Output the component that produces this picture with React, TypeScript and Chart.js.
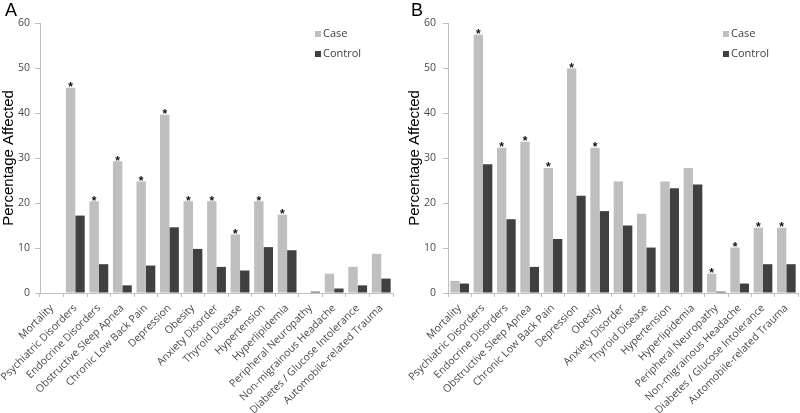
import React, { useEffect, useRef } from "react";
import { Chart, registerables } from "chart.js";

Chart.register(...registerables);

const categories = [
  "Mortality",
  "Psychiatric Disorders",
  "Endocrine Disorders",
  "Obstructive Sleep Apnea",
  "Chronic Low Back Pain",
  "Depression",
  "Obesity",
  "Anxiety Disorder",
  "Thyroid Disease",
  "Hypertension",
  "Hyperlipidemia",
  "Peripheral Neuropathy",
  "Non-migrainous Headache",
  "Diabetes / Glucose Intolerance",
  "Automobile-related Trauma",
];

const seriesNames = ["Case", "Control"];

const caseA = [0, 45.6, 20.4, 29.3, 24.8, 39.6, 20.4, 20.4, 13.0, 20.4, 17.4, 0, 4.3, 5.8, 8.7];
const controlA = [0, 17.2, 6.4, 1.7, 6.1, 14.6, 9.8, 5.8, 5.0, 10.2, 9.5, 0.3, 1.0, 1.7, 3.2];
const starsA = [false, true, true, true, true, true, true, true, true, true, true, false, false, false, false];

const caseB = [2.7, 57.4, 32.3, 33.6, 27.8, 49.9, 32.3, 24.8, 17.6, 24.8, 27.8, 4.3, 10.1, 14.5, 14.5];
const controlB = [2.1, 28.6, 16.4, 5.8, 12.0, 21.6, 18.2, 15.0, 10.1, 23.3, 24.1, 0.3, 2.1, 6.4, 6.4];
const starsB = [false, true, true, true, true, true, true, false, false, false, false, true, true, true, true];

const yMin = 0;
const yMax = 60;
const yStep = 10;

const CASE_COLOR = "#bfbfbf";
const CONTROL_COLOR = "#404040";
const AXIS_COLOR = "#bfbfbf";
const TICK_COLOR = "#4a4a4a";

type PanelProps = {
  letter: string;
  caseVals: number[];
  controlVals: number[];
  stars: boolean[];
  axisWidth: number;
  rightPad: number;
  titlePad: number;
  letterX: number;
  legendOffset: number;
  tickPad: number;
};

function Panel(props: PanelProps) {
  const ref = useRef<HTMLCanvasElement | null>(null);
  useEffect(() => {
    if (!ref.current) return;
    const { letter, stars, letterX, legendOffset } = props;
    const overlay = {
      id: "overlay",
      afterDatasetsDraw(chart: any) {
        const ctx = chart.ctx as CanvasRenderingContext2D;
        const meta = chart.getDatasetMeta(0);
        ctx.save();
        ctx.fillStyle = "#111";
        ctx.font = 'bold 12px "Liberation Sans"';
        ctx.textAlign = "center";
        ctx.textBaseline = "alphabetic";
        stars.forEach((s, i) => {
          if (s) {
            const el = meta.data[i];
            ctx.fillText("*", el.x, el.y + 3.5);
          }
        });
        const { right, top } = chart.chartArea;
        chart.data.datasets.forEach((ds: any, k: number) => {
          const x = right - legendOffset;
          const y = top + 8 + k * 20;
          ctx.fillStyle = ds.backgroundColor;
          ctx.fillRect(x, y, 6, 6);
          ctx.fillStyle = "#404040";
          ctx.font = '11px "Open Sans"';
          ctx.textAlign = "left";
          ctx.textBaseline = "middle";
          ctx.fillText(ds.label, x + 8, y + 3);
        });
        ctx.fillStyle = "#000";
        ctx.font = '18px "Liberation Sans"';
        ctx.textAlign = "left";
        ctx.textBaseline = "alphabetic";
        ctx.fillText(letter, letterX, 16);
        ctx.restore();
      },
    };
    const chart = new Chart(ref.current, {
      type: "bar",
      data: {
        labels: categories,
        datasets: [
          { label: seriesNames[0], data: props.caseVals, backgroundColor: CASE_COLOR, borderWidth: 0 },
          { label: seriesNames[1], data: props.controlVals, backgroundColor: CONTROL_COLOR, borderWidth: 0 },
        ],
      },
      options: {
        responsive: false,
        animation: false,
        layout: { padding: { left: 0, right: props.rightPad, top: 23, bottom: 0 } },
        datasets: { bar: { categoryPercentage: 0.8, barPercentage: 1.0 } },
        plugins: { legend: { display: false }, tooltip: { enabled: false } },
        scales: {
          x: {
            grid: { offset: true, drawOnChartArea: false, drawTicks: true, tickLength: 4, color: AXIS_COLOR },
            border: { color: AXIS_COLOR },
            ticks: {
              autoSkip: false,
              maxRotation: 45,
              minRotation: 45,
              padding: 5,
              color: TICK_COLOR,
              font: { family: "Open Sans", size: 10.5 },
            },
            afterFit: (s: any) => {
              s.height = 120;
              s.paddingLeft = 0;
              s.paddingRight = 0;
            },
          },
          y: {
            min: yMin,
            max: yMax,
            ticks: { stepSize: yStep, padding: props.tickPad, color: TICK_COLOR, font: { family: "Open Sans", size: 10.5 } },
            grid: { drawOnChartArea: false, drawTicks: true, tickLength: 5, color: AXIS_COLOR },
            border: { color: AXIS_COLOR },
            title: {
              display: true,
              text: "Percentage Affected",
              color: "#000",
              font: { family: "Liberation Sans", size: 15, lineHeight: 1 },
              padding: { top: props.titlePad, bottom: 0 },
            },
            afterFit: (s: any) => {
              s.width = props.axisWidth;
              s.paddingTop = 0;
              s.paddingBottom = 0;
            },
          },
        },
      },
      plugins: [overlay],
    });
    return () => chart.destroy();
  }, []);
  return <canvas ref={ref} width={400} height={413} style={{ display: "block", width: 400, height: 413 }} />;
}

export default function App() {
  return (
    <div style={{ position: "absolute", left: 0, top: 0, width: 800, height: 413, display: "flex", background: "#fff" }}>
      <Panel letter="A" caseVals={caseA} controlVals={controlA} stars={starsA} axisWidth={40} rightPad={7} titlePad={1} letterX={5} legendOffset={78} tickPad={5} />
      <Panel letter="B" caseVals={caseB} controlVals={controlB} stars={starsB} axisWidth={48} rightPad={2} titlePad={7} letterX={11} legendOffset={75} tickPad={7} />
    </div>
  );
}
